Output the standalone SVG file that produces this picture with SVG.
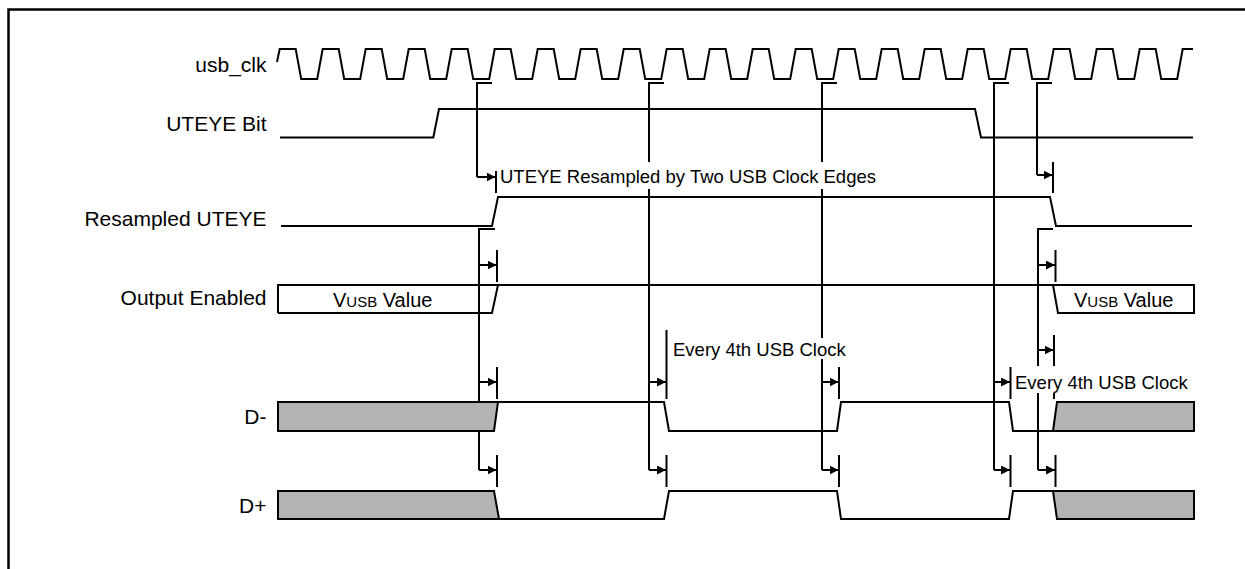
<svg xmlns="http://www.w3.org/2000/svg" width="1245" height="569" viewBox="0 0 1245 569">
<style>
  .w{fill:none;stroke:#000;stroke-width:2;stroke-linejoin:miter}
  .g{fill:#b3b3b3;stroke:#000;stroke-width:2}
  .c{fill:none;stroke:#000;stroke-width:2}
  .a{fill:none;stroke:#000;stroke-width:2;marker-end:url(#ah)}
  .lab{font-family:"Liberation Sans",Arial,sans-serif;font-size:21px;fill:#000;text-anchor:end}
  .ann{font-family:"Liberation Sans",Arial,sans-serif;font-size:18.5px;fill:#000}
  .val{font-family:"Liberation Sans",Arial,sans-serif;font-size:20px;fill:#000}
  .bg{fill:#fff}
</style>
<defs>
  <marker id="ah" markerUnits="userSpaceOnUse" markerWidth="10" markerHeight="10" refX="9" refY="4.5" orient="auto">
    <path d="M0,0 L9,4.5 L0,9 z" fill="#000"/>
  </marker>
</defs>
<rect x="0" y="0" width="1245" height="569" fill="#fff"/>
<path d="M8.5,569 V9.5 H1245" fill="none" stroke="#000" stroke-width="2.5"/>

<g id="usb_clk">
  <text class="lab" x="266.5" y="72">usb_clk</text>
  <path class="w" d="M277,62 L279.7,49 h16 l5.5,30 h16 l5.5,-30 h16 l5.5,30 h16 l5.5,-30 h16 l5.5,30 h16 l5.5,-30 h16 l5.5,30 h16 l5.5,-30 h16 l5.5,30 h16 l5.5,-30 h16 l5.5,30 h16 l5.5,-30 h16 l5.5,30 h16 l5.5,-30 h16 l5.5,30 h16 l5.5,-30 h16 l5.5,30 h16 l5.5,-30 h16 l5.5,30 h16 l5.5,-30 h16 l5.5,30 h16 l5.5,-30 h16 l5.5,30 h16 l5.5,-30 h16 l5.5,30 h16 l5.5,-30 h16 l5.5,30 h16 l5.5,-30 h16 l5.5,30 h16 l5.5,-30 h16 l5.5,30 h16 l5.5,-30 h16 l5.5,30 h16 l5.5,-30 h16 l5.5,30 h16 l5.5,-30 h16 l5.5,30 h16 l5.5,-30 h16 l5.5,30 h16 l5.5,-30 h16 l5.5,30 h16 l5.5,-30 h10.3"/>
</g>

<g id="uteye_bit">
  <text class="lab" x="266.5" y="131">UTEYE Bit</text>
  <path class="w" d="M280,137.5 H433.3 L439,109 H975 L981,137.5 H1193"/>
</g>

<g id="resampled_uteye">
  <text class="lab" x="266.5" y="226">Resampled UTEYE</text>
  <path class="w" d="M281,226 H492 L498,197 H1050 L1056,226 H1192"/>
</g>

<g id="connectors">
  <path class="c" d="M492,83 H477 V177"/>
  <path class="a" d="M477,177 H495.5"/>
  <path class="c" d="M496,171 V193"/>
  <path class="c" d="M495,229 H479 V470"/>
  <path class="a" d="M479,265 H496.5"/>
  <path class="a" d="M479,382 H496.5"/>
  <path class="a" d="M479,470 H496.5"/>
  <path class="c" d="M497,250 V282 M497,367 V399 M497,455 V487"/>
  <path class="c" d="M664,83 H649 V470"/>
  <path class="a" d="M649,382 H666"/>
  <path class="a" d="M649,470 H666"/>
  <path class="c" d="M666.5,330 V399 M666.5,455 V487"/>
  <path class="c" d="M837,83 H822 V470"/>
  <path class="a" d="M822,382 H838.5"/>
  <path class="a" d="M822,470 H838.5"/>
  <path class="c" d="M839,367 V399 M839,455 V487"/>
  <path class="c" d="M1009,83 H994 V470"/>
  <path class="a" d="M994,382 H1010"/>
  <path class="a" d="M994,470 H1010"/>
  <path class="c" d="M1010.5,367 V399 M1010.5,455 V487"/>
  <path class="c" d="M1052,83 H1037 V175"/>
  <path class="a" d="M1037,175 H1052.5"/>
  <path class="c" d="M1053,162 V193"/>
  <path class="c" d="M1053,229 H1038 V470"/>
  <path class="a" d="M1038,265 H1055"/>
  <path class="a" d="M1038,350 H1053.5"/>
  <path class="a" d="M1038,470 H1055"/>
  <path class="c" d="M1055.5,250 V282 M1054,335 V399 M1055.5,455 V487"/>
</g>

<g id="output_enabled">
  <text class="lab" x="266.5" y="305">Output Enabled</text>
  <path class="w" d="M278,313 V285 H1194 V313 H1058 L1053,285"/>
  <path class="w" d="M278,313 H492 L498,285"/>
  <text class="val" x="333" y="307">V<tspan font-size="15">USB</tspan> Value</text>
  <text class="val" x="1074" y="307">V<tspan font-size="15">USB</tspan> Value</text>
</g>

<g id="d_minus">
  <text class="lab" x="266.5" y="424">D-</text>
  <polygon class="g" points="278,402 498,402 494,431 278,431"/>
  <path class="w" d="M498,402 H664 L669,431 H837 L841,402 H1009 L1013,431 H1053"/>
  <polygon class="g" points="1053,431 1057,402 1194,402 1194,431"/>
</g>

<g id="d_plus">
  <text class="lab" x="266.5" y="513">D+</text>
  <polygon class="g" points="278,491 494,491 499,519 278,519"/>
  <path class="w" d="M499,519 H664 L669,491 H837 L841,519 H1009 L1013,491 H1053"/>
  <polygon class="g" points="1053,491 1194,491 1194,519 1057,519"/>
</g>

<g id="labels">
  <rect class="bg" x="499" y="162" width="382" height="27"/>
  <text class="ann" x="500" y="183">UTEYE Resampled by Two USB Clock Edges</text>
  <rect class="bg" x="670" y="338" width="180" height="21"/>
  <text class="ann" x="673" y="355.5">Every 4th USB Clock</text>
  <rect class="bg" x="1012" y="366" width="190" height="27"/>
  <text class="ann" x="1015" y="388.5">Every 4th USB Clock</text>
</g>
</svg>
